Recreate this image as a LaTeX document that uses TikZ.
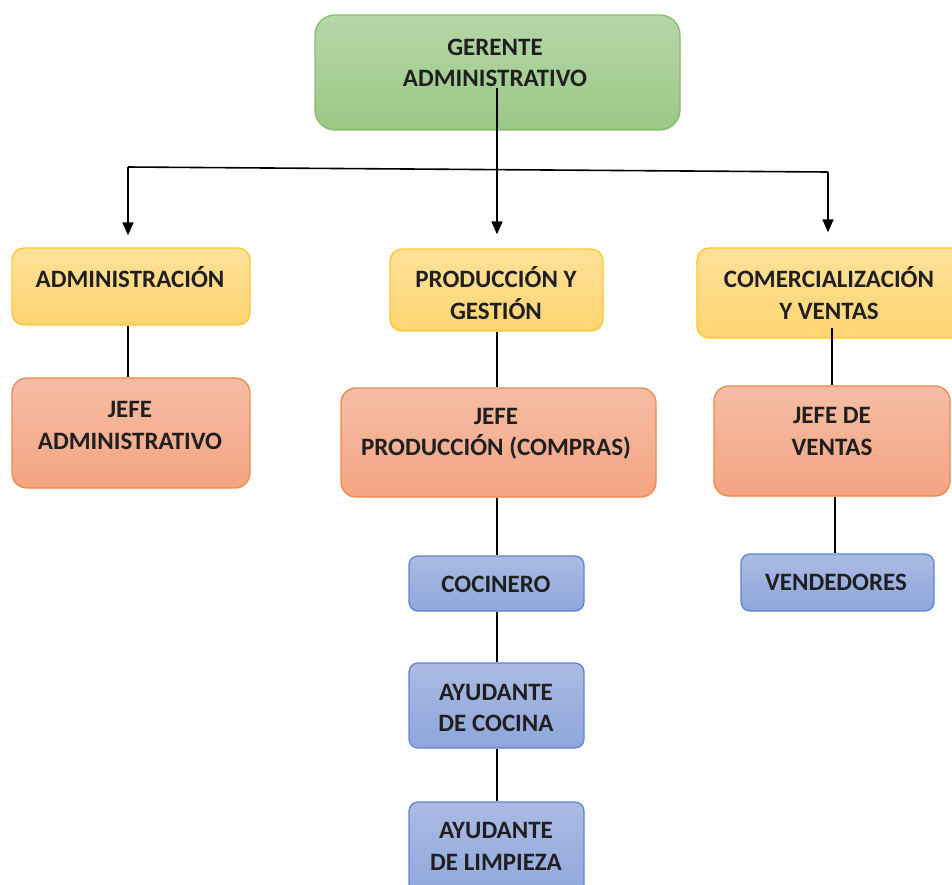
\documentclass[tikz,border=0pt]{standalone}
\usepackage{fontspec}
\setmainfont{Carlito}
\usetikzlibrary{arrows.meta}

\definecolor{grTop}{HTML}{B6D7A8}
\definecolor{grBot}{HTML}{9BC785}
\definecolor{grLine}{HTML}{88BD6C}
\definecolor{yeTop}{HTML}{FFE19A}
\definecolor{yeBot}{HTML}{FFD571}
\definecolor{yeLine}{HTML}{FFC72C}
\definecolor{orTop}{HTML}{F5BDA5}
\definecolor{orBot}{HTML}{F4A482}
\definecolor{orLine}{HTML}{F0884A}
\definecolor{blTop}{HTML}{ABBBE3}
\definecolor{blBot}{HTML}{8EA6DC}
\definecolor{blLine}{HTML}{5F84D0}
\definecolor{ink}{HTML}{1F1F1F}

\tikzset{
  card/.style={rectangle, inner sep=0pt, line width=1.3pt},
  greenbox/.style={card, draw=grLine, top color=grTop, bottom color=grBot, rounded corners=20pt},
  yellowbox/.style={card, draw=yeLine, top color=yeTop, bottom color=yeBot, rounded corners=12pt},
  orangebox/.style={card, draw=orLine, top color=orTop, bottom color=orBot, rounded corners=15pt},
  bluebox/.style={card, draw=blLine, top color=blTop, bottom color=blBot, rounded corners=9pt},
  lbl/.style={align=center, text=ink, inner sep=0pt, font=\fontsize{25}{31.5}\selectfont\bfseries},
  link/.style={line width=1.6pt, draw=black},
  arr/.style={link, -{Triangle[length=13pt, width=11pt]}},
}

\begin{document}
\begin{tikzpicture}[x=1pt, y=-1pt]
  \useasboundingbox (0,0) rectangle (952,884);
  \begin{scope}
    \clip (0,0) rectangle (952,884);

    % top manager
    \node[greenbox, minimum width=365pt, minimum height=115pt] (ger) at (497.5,72.5) {};
    \node[lbl] (gerT) at (495,63) {GERENTE\\ADMINISTRATIVO};

    % departments
    \node[yellowbox, minimum width=238pt, minimum height=77pt] (adm) at (131,286.5) {};
    \node[lbl] (admT) at (130,277) {ADMINISTRACIÓN};
    \node[yellowbox, minimum width=213pt, minimum height=82pt] (prod) at (496.5,290) {};
    \node[lbl] (prodT) at (496,293) {PRODUCCIÓN Y\\GESTIÓN};
    \node[yellowbox, minimum width=270pt, minimum height=90pt] (com) at (832,293) {};
    \node[lbl] (comT) at (829,293) {COMERCIALIZACIÓN\\Y VENTAS};

    % heads
    \node[orangebox, minimum width=238pt, minimum height=110pt] (jadm) at (131,433) {};
    \node[lbl] (jadmT) at (130,425.5) {JEFE\\ADMINISTRATIVO};
    \node[orangebox, minimum width=315pt, minimum height=109pt] (jprod) at (498.5,442.5) {};
    \node[lbl] (jprodT) at (496,434) {JEFE\\PRODUCCIÓN (COMPRAS)};
    \node[orangebox, minimum width=236pt, minimum height=110pt] (jven) at (832,441) {};
    \node[lbl] (jvenT) at (832,431.5) {JEFE DE\\VENTAS};

    % staff
    \node[bluebox, minimum width=175pt, minimum height=55pt] (coc) at (496.5,583.5) {};
    \node[lbl] (cocT) at (496,584) {COCINERO};
    \node[bluebox, minimum width=175pt, minimum height=85pt] (ayc) at (496.5,705.5) {};
    \node[lbl] (aycT) at (496,708) {AYUDANTE\\DE COCINA};
    \node[bluebox, minimum width=175pt, minimum height=100pt] (ayl) at (496.5,852) {};
    \node[lbl] (aylT) at (496,846.5) {AYUDANTE\\DE LIMPIEZA};
    \node[bluebox, minimum width=193pt, minimum height=57pt] (ven) at (837.5,582.5) {};
    \node[lbl] (venT) at (836,582) {VENDEDORES};

    % distribution bar with arrows
    \coordinate (barL) at (128,167);
    \coordinate (barR) at (828,172);
    \coordinate (gerOut) at (497,88);
    \draw[link] (barL) -- (barR);
    \draw[arr, shorten >=12pt] (barL) -- (barL |- adm.north);
    \draw[arr, shorten >=14pt] (gerOut) -- (gerOut |- prod.north);
    \draw[arr, shorten >=15pt] (barR) -- (barR |- com.north);

    % plain reporting lines
    \draw[link] (adm.south -| 128,0) -- (jadm.north -| 128,0);
    \draw[link] (prod.south -| 497,0) -- (jprod.north -| 497,0);
    \coordinate (comOut) at (832,328);
    \draw[link] (comOut) -- (comOut |- jven.north);
    \draw[link] (jprod.south -| 497,0) -- (coc.north -| 497,0);
    \draw[link] (coc.south -| 497,0) -- (ayc.north -| 497,0);
    \draw[link] (ayc.south -| 497,0) -- (ayl.north -| 497,0);
    \draw[link] (jven.south -| 835,0) -- (ven.north -| 835,0);
  \end{scope}
\end{tikzpicture}
\end{document}
